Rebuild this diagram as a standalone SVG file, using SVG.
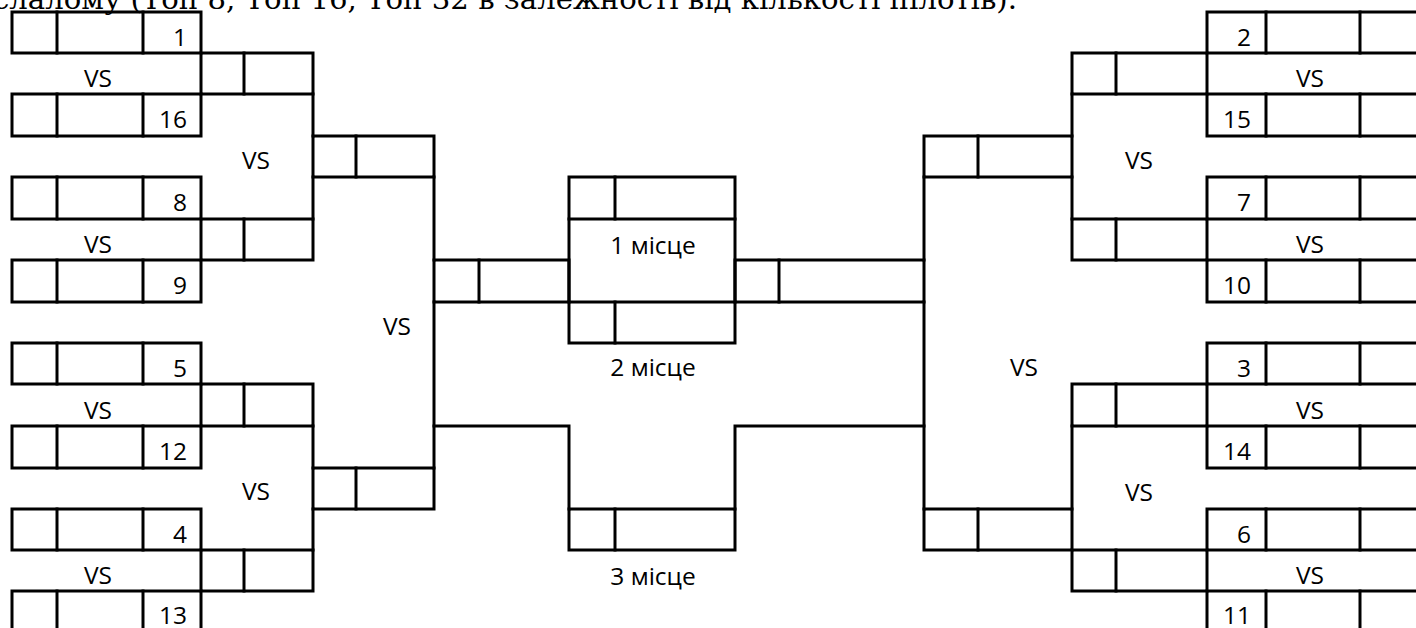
<svg xmlns="http://www.w3.org/2000/svg" width="1416" height="628" viewBox="0 0 1416 628">
<style>
  rect, line, path { fill: none; stroke: #000; stroke-width: 3; stroke-linecap: square; }
  text { font-family: "Open Sans", "Noto Sans", "DejaVu Sans", sans-serif; font-size: 24.5px; fill: #000; }
  .num { text-anchor: end; }
  .c { text-anchor: middle; }
  .hdr { font-family: "DejaVu Serif", "Liberation Serif", serif; font-size: 27px; }
</style>
<rect x="0" y="0" width="1416" height="628" style="fill:#fff;stroke:none"/>
<text class="hdr" x="-7" y="9" textLength="1024" lengthAdjust="spacingAndGlyphs">слалому (Топ 8, Топ 16, Топ 32 в залежності від кількості пілотів).</text>

<!-- Left round 1 -->
<g id="L1-1"><rect x="12" y="12" width="189" height="41"/><line x1="57" y1="12" x2="57" y2="53"/><line x1="143" y1="12" x2="143" y2="53"/><text class="num" x="187" y="46">1</text></g>
<g id="L1-16"><rect x="12" y="94" width="189" height="42"/><line x1="57" y1="94" x2="57" y2="136"/><line x1="143" y1="94" x2="143" y2="136"/><text class="num" x="187" y="128">16</text></g>
<g id="L1-8"><rect x="12" y="177" width="189" height="42"/><line x1="57" y1="177" x2="57" y2="219"/><line x1="143" y1="177" x2="143" y2="219"/><text class="num" x="187" y="211">8</text></g>
<g id="L1-9"><rect x="12" y="260" width="189" height="42"/><line x1="57" y1="260" x2="57" y2="302"/><line x1="143" y1="260" x2="143" y2="302"/><text class="num" x="187" y="294">9</text></g>
<g id="L1-5"><rect x="12" y="343" width="189" height="41"/><line x1="57" y1="343" x2="57" y2="384"/><line x1="143" y1="343" x2="143" y2="384"/><text class="num" x="187" y="377">5</text></g>
<g id="L1-12"><rect x="12" y="426" width="189" height="42"/><line x1="57" y1="426" x2="57" y2="468"/><line x1="143" y1="426" x2="143" y2="468"/><text class="num" x="187" y="460">12</text></g>
<g id="L1-4"><rect x="12" y="509" width="189" height="41"/><line x1="57" y1="509" x2="57" y2="550"/><line x1="143" y1="509" x2="143" y2="550"/><text class="num" x="187" y="543">4</text></g>
<g id="L1-13"><rect x="12" y="591" width="189" height="42"/><line x1="57" y1="591" x2="57" y2="633"/><line x1="143" y1="591" x2="143" y2="633"/><text class="num" x="187" y="624">13</text></g>

<!-- Left round 2 -->
<g id="L2-a"><rect x="201" y="53" width="112" height="41"/><line x1="244" y1="53" x2="244" y2="94"/><text class="c" x="98" y="87">VS</text></g>
<g id="L2-b"><rect x="201" y="219" width="112" height="41"/><line x1="244" y1="219" x2="244" y2="260"/><text class="c" x="98" y="253">VS</text></g>
<g id="L2-c"><rect x="201" y="384" width="112" height="42"/><line x1="244" y1="384" x2="244" y2="426"/><text class="c" x="98" y="419">VS</text></g>
<g id="L2-d"><rect x="201" y="550" width="112" height="41"/><line x1="244" y1="550" x2="244" y2="591"/><text class="c" x="98" y="584">VS</text></g>

<!-- Left round 3 -->
<g id="L3-a"><rect x="313" y="136" width="121" height="41"/><line x1="356" y1="136" x2="356" y2="177"/><text class="c" x="256" y="169">VS</text></g>
<g id="L3-b"><rect x="313" y="468" width="121" height="41"/><line x1="356" y1="468" x2="356" y2="509"/><text class="c" x="256" y="500">VS</text></g>

<!-- Left semifinal -->
<g id="LSF"><rect x="434" y="260" width="135" height="42"/><line x1="479" y1="260" x2="479" y2="302"/><text class="c" x="397" y="335">VS</text></g>

<!-- Final -->
<g id="final"><rect x="569" y="177" width="166" height="166"/><line x1="569" y1="219" x2="735" y2="219"/><line x1="569" y1="302" x2="735" y2="302"/><line x1="615" y1="177" x2="615" y2="219"/><line x1="615" y1="302" x2="615" y2="343"/><text class="c" x="653" y="254">1 місце</text><text class="c" x="653" y="376">2 місце</text></g>

<!-- Third place -->
<g id="third"><rect x="569" y="509" width="166" height="41"/><line x1="615" y1="509" x2="615" y2="550"/><text class="c" x="653" y="585">3 місце</text></g>

<!-- Right semifinal -->
<g id="RSF"><rect x="735" y="260" width="189" height="42"/><line x1="779" y1="260" x2="779" y2="302"/><text class="c" x="1024" y="376">VS</text></g>

<!-- Right round 3 -->
<g id="R3-a"><rect x="924" y="136" width="148" height="41"/><line x1="978" y1="136" x2="978" y2="177"/><text class="c" x="1139" y="169">VS</text></g>
<g id="R3-b"><rect x="924" y="509" width="148" height="41"/><line x1="978" y1="509" x2="978" y2="550"/><text class="c" x="1139" y="501">VS</text></g>

<!-- Right round 2 -->
<g id="R2-a"><rect x="1072" y="53" width="135" height="41"/><line x1="1116" y1="53" x2="1116" y2="94"/><text class="c" x="1310" y="87">VS</text></g>
<g id="R2-b"><rect x="1072" y="219" width="135" height="41"/><line x1="1116" y1="219" x2="1116" y2="260"/><text class="c" x="1310" y="253">VS</text></g>
<g id="R2-c"><rect x="1072" y="384" width="135" height="42"/><line x1="1116" y1="384" x2="1116" y2="426"/><text class="c" x="1310" y="419">VS</text></g>
<g id="R2-d"><rect x="1072" y="550" width="135" height="41"/><line x1="1116" y1="550" x2="1116" y2="591"/><text class="c" x="1310" y="584">VS</text></g>

<!-- Right round 1 -->
<g id="R1-2"><rect x="1207" y="12" width="230" height="41"/><line x1="1266" y1="12" x2="1266" y2="53"/><line x1="1360" y1="12" x2="1360" y2="53"/><text class="num" x="1251" y="46">2</text></g>
<g id="R1-15"><rect x="1207" y="94" width="230" height="42"/><line x1="1266" y1="94" x2="1266" y2="136"/><line x1="1360" y1="94" x2="1360" y2="136"/><text class="num" x="1251" y="128">15</text></g>
<g id="R1-7"><rect x="1207" y="177" width="230" height="42"/><line x1="1266" y1="177" x2="1266" y2="219"/><line x1="1360" y1="177" x2="1360" y2="219"/><text class="num" x="1251" y="211">7</text></g>
<g id="R1-10"><rect x="1207" y="260" width="230" height="42"/><line x1="1266" y1="260" x2="1266" y2="302"/><line x1="1360" y1="260" x2="1360" y2="302"/><text class="num" x="1251" y="294">10</text></g>
<g id="R1-3"><rect x="1207" y="343" width="230" height="41"/><line x1="1266" y1="343" x2="1266" y2="384"/><line x1="1360" y1="343" x2="1360" y2="384"/><text class="num" x="1251" y="377">3</text></g>
<g id="R1-14"><rect x="1207" y="426" width="230" height="42"/><line x1="1266" y1="426" x2="1266" y2="468"/><line x1="1360" y1="426" x2="1360" y2="468"/><text class="num" x="1251" y="460">14</text></g>
<g id="R1-6"><rect x="1207" y="509" width="230" height="41"/><line x1="1266" y1="509" x2="1266" y2="550"/><line x1="1360" y1="509" x2="1360" y2="550"/><text class="num" x="1251" y="543">6</text></g>
<g id="R1-11"><rect x="1207" y="591" width="230" height="42"/><line x1="1266" y1="591" x2="1266" y2="633"/><line x1="1360" y1="591" x2="1360" y2="633"/><text class="num" x="1251" y="624">11</text></g>

<!-- Connectors -->
<g id="connectors">
  <line x1="313" y1="94" x2="313" y2="136"/>
  <line x1="313" y1="177" x2="313" y2="219"/>
  <line x1="313" y1="426" x2="313" y2="468"/>
  <line x1="313" y1="509" x2="313" y2="550"/>
  <line x1="434" y1="177" x2="434" y2="260"/>
  <line x1="434" y1="302" x2="434" y2="468"/>
  <path d="M434 426 H569 V509"/>
  <line x1="1072" y1="94" x2="1072" y2="136"/>
  <line x1="1072" y1="177" x2="1072" y2="219"/>
  <line x1="1072" y1="426" x2="1072" y2="509"/>
  <line x1="924" y1="177" x2="924" y2="260"/>
  <line x1="924" y1="302" x2="924" y2="509"/>
  <path d="M924 426 H735 V509"/>
</g>
</svg>
